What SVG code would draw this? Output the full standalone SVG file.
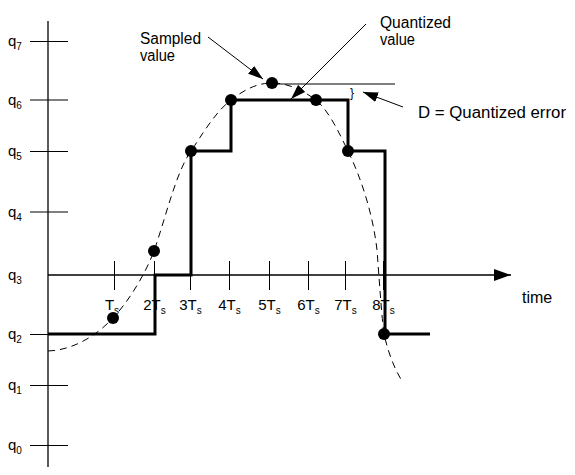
<svg xmlns="http://www.w3.org/2000/svg" width="575" height="475" viewBox="0 0 575 475">
<style>
text{font-family:"Liberation Sans",Arial,sans-serif;font-size:15px;fill:#000}
.lbl{font-size:16px}
.sub{font-size:10px}
.ax{stroke:#000;stroke-width:1.3;fill:none}
.tk{stroke:#000;stroke-width:1;fill:none}
.stair{stroke:#000;stroke-width:3;fill:none}
.curve{stroke:#000;stroke-width:1;fill:none;stroke-dasharray:7,5}
.ptr{stroke:#000;stroke-width:1;fill:none}
.dot{fill:#000}
</style>
<defs>
<marker id="ah" markerUnits="userSpaceOnUse" markerWidth="15" markerHeight="10" refX="15" refY="5" orient="auto">
<path d="M0,0 L15,5 L0,10 z" fill="#000"/>
</marker>
<marker id="ah2" markerUnits="userSpaceOnUse" markerWidth="17" markerHeight="12" refX="17" refY="6" orient="auto">
<path d="M0,0 L17,6 L0,12 z" fill="#000"/>
</marker>
</defs>
<g id="axes">
<line class="ax" x1="48" y1="21" x2="48" y2="467"/>
<line class="ax" x1="48" y1="275" x2="511" y2="275" marker-end="url(#ah2)"/>
<g id="qticks">
<line class="tk" x1="30" y1="41.5" x2="68" y2="41.5"/>
<line class="tk" x1="30" y1="100" x2="68" y2="100"/>
<line class="tk" x1="30" y1="151.5" x2="68" y2="151.5"/>
<line class="tk" x1="30" y1="212" x2="68" y2="212"/>
<line class="tk" x1="30" y1="334.5" x2="68" y2="334.5"/>
<line class="tk" x1="30" y1="385.5" x2="68" y2="385.5"/>
<line class="tk" x1="30" y1="445.5" x2="68" y2="445.5"/>
</g>
<g id="tticks">
<line class="tk" x1="114.5" y1="261" x2="114.5" y2="290"/>
<line class="tk" x1="154.5" y1="261" x2="154.5" y2="290"/>
<line class="tk" x1="190.5" y1="261" x2="190.5" y2="290"/>
<line class="tk" x1="229.5" y1="261" x2="229.5" y2="290"/>
<line class="tk" x1="269.5" y1="261" x2="269.5" y2="290"/>
<line class="tk" x1="308.5" y1="261" x2="308.5" y2="290"/>
<line class="tk" x1="345.5" y1="261" x2="345.5" y2="290"/>
<line class="tk" x1="383.5" y1="261" x2="383.5" y2="290"/>
</g>
</g>
<g id="qlabels">
<text x="8" y="46">q<tspan class="sub" dy="4">7</tspan></text>
<text x="8" y="104.5">q<tspan class="sub" dy="4">6</tspan></text>
<text x="8" y="156">q<tspan class="sub" dy="4">5</tspan></text>
<text x="8" y="216.5">q<tspan class="sub" dy="4">4</tspan></text>
<text x="8" y="279.5">q<tspan class="sub" dy="4">3</tspan></text>
<text x="8" y="339">q<tspan class="sub" dy="4">2</tspan></text>
<text x="8" y="390">q<tspan class="sub" dy="4">1</tspan></text>
<text x="8" y="450">q<tspan class="sub" dy="4">0</tspan></text>
</g>
<g id="tlabels">
<text x="112" y="309.5" text-anchor="middle">T<tspan class="sub" dy="4">s</tspan></text>
<text x="154.5" y="309.5" text-anchor="middle">2T<tspan class="sub" dy="4">s</tspan></text>
<text x="190.5" y="309.5" text-anchor="middle">3T<tspan class="sub" dy="4">s</tspan></text>
<text x="229.5" y="309.5" text-anchor="middle">4T<tspan class="sub" dy="4">s</tspan></text>
<text x="269.5" y="309.5" text-anchor="middle">5T<tspan class="sub" dy="4">s</tspan></text>
<text x="308.5" y="309.5" text-anchor="middle">6T<tspan class="sub" dy="4">s</tspan></text>
<text x="345.5" y="309.5" text-anchor="middle">7T<tspan class="sub" dy="4">s</tspan></text>
<text x="383.5" y="309.5" text-anchor="middle">8T<tspan class="sub" dy="4">s</tspan></text>
<text class="lbl" x="522" y="303">time</text>
</g>
<g id="signal">
<path class="curve" d="M48,351 C75,350 98,334 113,318 C128,302 145,275 154,251 C165,220 176,172 191,151 C200,138 215,112 231,100 C245,89 258,83 272,83 C290,83 305,92 316,100 C330,112 340,135 348,151 C362,180 373,215 377,250 C380,290 382,320 384,334 C388,352 394,368 402,381"/>
<path class="stair" d="M48,334 H155 V275 H191 V151 H231 V100 H348 V151 H385 V334 H430"/>
<circle class="dot" cx="113" cy="318" r="6"/>
<circle class="dot" cx="154" cy="251" r="6"/>
<circle class="dot" cx="191" cy="151" r="6"/>
<circle class="dot" cx="231" cy="100" r="6"/>
<circle class="dot" cx="272" cy="83" r="6"/>
<circle class="dot" cx="316" cy="100" r="6"/>
<circle class="dot" cx="348" cy="151" r="6"/>
<circle class="dot" cx="384" cy="334" r="6"/>
</g>
<g id="annotations">
<line class="tk" x1="272" y1="84" x2="395" y2="84"/>
<text x="350" y="97" style="font-size:12px">}</text>
<line class="ptr" x1="208" y1="37" x2="263" y2="79" marker-end="url(#ah)"/>
<line class="ptr" x1="366" y1="24" x2="291" y2="99" marker-end="url(#ah)"/>
<line class="ptr" x1="403" y1="107" x2="363" y2="92" marker-end="url(#ah)"/>
<text class="lbl" x="140" y="44" textLength="61" lengthAdjust="spacingAndGlyphs">Sampled</text>
<text class="lbl" x="140" y="61" textLength="35" lengthAdjust="spacingAndGlyphs">value</text>
<text class="lbl" x="380" y="28" textLength="71" lengthAdjust="spacingAndGlyphs">Quantized</text>
<text class="lbl" x="380" y="45" textLength="35" lengthAdjust="spacingAndGlyphs">value</text>
<text class="lbl" x="418" y="118" textLength="148" lengthAdjust="spacingAndGlyphs">D = Quantized error</text>
</g>
</svg>
